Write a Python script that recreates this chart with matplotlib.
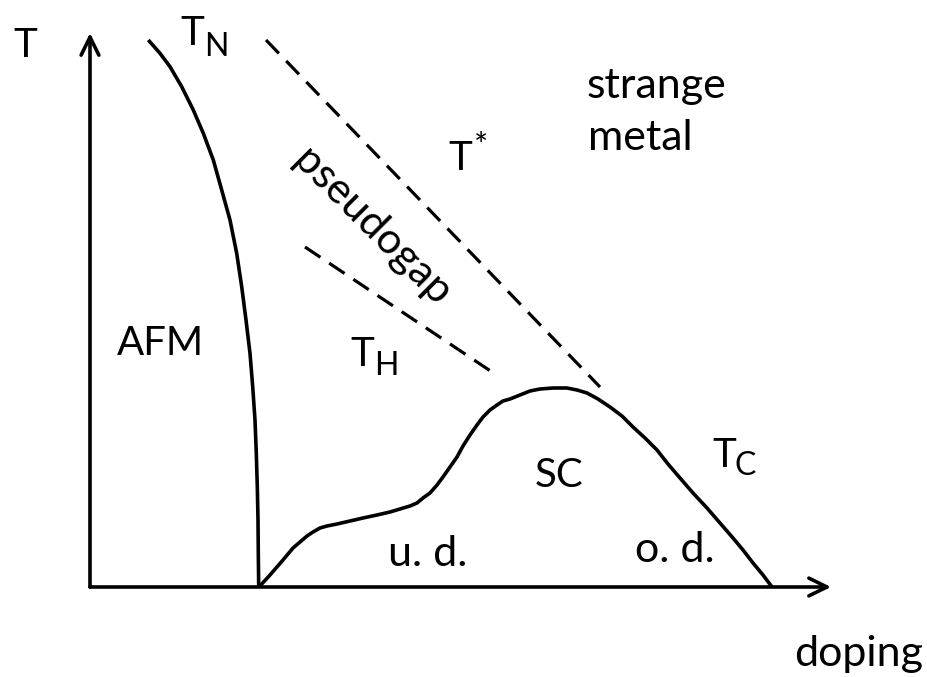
import matplotlib
matplotlib.use("Agg")
import matplotlib.pyplot as plt

plt.rcParams['font.family'] = ['Lato', 'DejaVu Sans']

# Phase boundaries (doping, temperature) in arbitrary units
afm_doping = [0.583, 0.700, 0.800, 0.917, 1.033, 1.133, 1.233, 1.317, 1.400, 1.467,
              1.517, 1.560, 1.600, 1.627, 1.650, 1.663, 1.673, 1.680, 1.683, 1.687]
afm_temp = [5.470, 5.337, 5.203, 5.003, 4.770, 4.537, 4.270, 3.970, 3.670, 3.337,
            3.003, 2.670, 2.337, 2.003, 1.670, 1.337, 1.003, 0.670, 0.337, 0.000]

sc_doping = [1.69, 1.80, 1.93, 2.03, 2.10, 2.17, 2.23, 2.30, 2.37, 2.47, 2.60, 2.73,
             2.87, 3.00, 3.10, 3.20, 3.27, 3.33, 3.40, 3.47, 3.53, 3.60, 3.67, 3.73,
             3.80, 3.87, 3.93, 4.00, 4.07, 4.13, 4.20, 4.30, 4.40, 4.50, 4.63, 4.77,
             4.87, 4.97, 5.08, 5.20, 5.32, 5.43, 5.55, 5.67, 5.78, 5.90, 6.03, 6.17,
             6.30, 6.43, 6.53, 6.63, 6.73, 6.82]
sc_temp = [0.00, 0.12, 0.27, 0.39, 0.45, 0.51, 0.55, 0.59, 0.61, 0.63, 0.66, 0.69,
           0.72, 0.75, 0.78, 0.81, 0.84, 0.89, 0.94, 1.02, 1.10, 1.20, 1.30, 1.41,
           1.52, 1.62, 1.70, 1.77, 1.82, 1.86, 1.88, 1.92, 1.96, 1.98, 1.99, 1.99,
           1.97, 1.94, 1.88, 1.80, 1.71, 1.60, 1.49, 1.37, 1.23, 1.09, 0.94, 0.79,
           0.64, 0.49, 0.37, 0.24, 0.12, 0.00]

tstar_doping = [1.76, 5.10]
tstar_temp = [5.47, 2.00]

th_doping = [2.15, 4.02]
th_temp = [3.40, 2.15]

fig = plt.figure(figsize=(9.27, 6.77), dpi=100)
ax = fig.add_axes([0, 0, 1, 1])
ax.set_xlim(-0.90, 8.37)
ax.set_ylim(-0.90, 5.87)
ax.axis('off')

lw = 2.6
arrow = dict(arrowstyle='->,head_length=0.65,head_width=0.32', lw=lw,
             color='black', shrinkA=0, shrinkB=0, mutation_scale=20)
ax.annotate('', xy=(0, 5.54), xytext=(0, 0), arrowprops=arrow)
ax.annotate('', xy=(7.41, 0), xytext=(0, 0), arrowprops=arrow)

ax.plot(afm_doping, afm_temp, color='black', lw=lw, solid_capstyle='butt',
        solid_joinstyle='round')
ax.plot(sc_doping, sc_temp, color='black', lw=lw, solid_capstyle='butt',
        solid_joinstyle='round')
ax.plot(tstar_doping, tstar_temp, color='black', lw=2.3, dashes=(5.8, 3.3))
ax.plot(th_doping, th_temp, color='black', lw=2.3, dashes=(5.8, 3.3))

fs = 29      # symbols and capitals
fl = 31      # lower-case words
sub = 23
txt = dict(color='black', va='baseline', ha='left')

ax.text(-0.77, 5.30, 'T', fontsize=fs, **txt)
ax.text(0.90, 5.42, 'T', fontsize=fs, **txt)
ax.text(1.14, 5.31, 'N', fontsize=sub, **txt)
ax.text(3.58, 4.17, 'T', fontsize=fs, **txt)
ax.text(3.84, 4.55, '*', fontsize=24, color='black', ha='left', va='top')
ax.text(2.60, 2.21, 'T', fontsize=fs, **txt)
ax.text(2.84, 2.12, 'H', fontsize=sub, **txt)
ax.text(6.22, 1.20, 'T', fontsize=fs, **txt)
ax.text(6.44, 1.12, 'C', fontsize=sub, **txt)

ax.text(0.27, 2.32, 'AFM', fontsize=fs, **txt)
ax.text(4.45, 1.00, 'SC', fontsize=fs, **txt)
ax.text(2.98, 0.21, 'u. d.', fontsize=fl, **txt)
ax.text(5.45, 0.25, 'o. d.', fontsize=fl, **txt)
ax.text(4.97, 4.89, 'strange', fontsize=fl, **txt)
ax.text(4.98, 4.37, 'metal', fontsize=fl, **txt)
ax.text(7.04, -0.79, 'doping', fontsize=fl, **txt)
ax.text(2.82, 3.60, 'pseudogap', fontsize=fl, rotation=-45, ha='center',
        va='center', rotation_mode='anchor', color='black')

fig.savefig('out.png', dpi=100, facecolor='white')
